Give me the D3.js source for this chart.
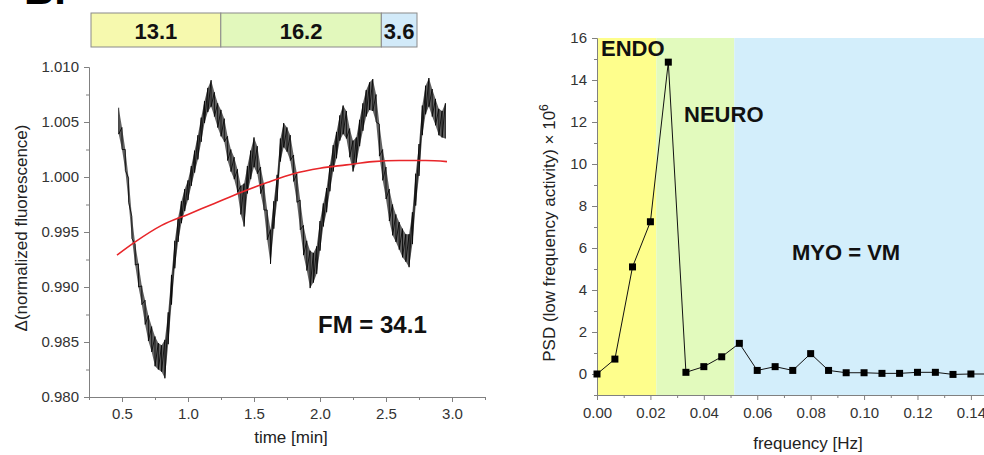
<!DOCTYPE html>
<html>
<head>
<meta charset="utf-8">
<script src="https://cdn.jsdelivr.net/npm/d3@7"></script>
<style>
  body { margin: 0; background: #fff; }
  svg { display: block; font-family: "Liberation Sans", Arial, sans-serif; }
  .axis path, .axis line { stroke: #808080; }
  .axis text { fill: #333; font-size: 15px; font-family: "Liberation Sans", Arial, sans-serif; }
</style>
</head>
<body>
<div id="viz-container"></div>
<script>
// ---- data ----
// top bar (contributions)
const barLabels = ["13.1", "16.2", "3.6"];
const barValues = [13.1, 16.2, 3.6];

// fluorescence trace, sampled every 0.025 min: upper and lower edge of the noisy band
const traceTime = [0.475,0.5,0.525,0.55,0.575,0.6,0.625,0.65,0.675,0.7,
  0.725,0.75,0.775,0.8,0.825,0.85,0.875,0.9,0.925,0.95,
  0.975,1.0,1.025,1.05,1.075,1.1,1.125,1.15,1.175,1.2,
  1.225,1.25,1.275,1.3,1.325,1.35,1.375,1.4,1.425,1.45,
  1.475,1.5,1.525,1.55,1.575,1.6,1.625,1.65,1.675,1.7,
  1.725,1.75,1.775,1.8,1.825,1.85,1.875,1.9,1.925,1.95,
  1.975,2.0,2.025,2.05,2.075,2.1,2.125,2.15,2.175,2.2,
  2.225,2.25,2.275,2.3,2.325,2.35,2.375,2.4,2.425,2.45,
  2.475,2.5,2.525,2.55,2.575,2.6,2.625,2.65,2.675,2.7,
  2.725,2.75,2.775,2.8,2.825,2.85,2.875,2.9,2.925,2.95];
const traceHigh = [1.0063,1.0045,1.0025,0.9999,0.9964,0.9939,0.9921,0.9901,0.9888,0.9874,
  0.9864,0.9855,0.9849,0.9847,0.9852,0.9877,0.9911,0.9942,0.9963,0.9978,
  0.9989,0.9997,1.0010,1.0024,1.0038,1.0054,1.0069,1.0081,1.0088,1.0077,
  1.0067,1.0061,1.0053,1.0037,1.0025,1.0018,1.0007,0.9992,0.9994,1.0010,
  1.0024,1.0036,1.0028,1.0009,0.9994,0.9970,0.9952,0.9978,1.0002,1.0035,
  1.0049,1.0045,1.0038,1.0020,1.0003,0.9979,0.9956,0.9942,0.9933,0.9931,
  0.9937,0.9960,0.9976,0.9990,1.0011,1.0029,1.0041,1.0056,1.0065,1.0060,
  1.0044,1.0033,1.0036,1.0052,1.0067,1.0079,1.0086,1.0089,1.0075,1.0048,
  1.0025,1.0009,0.9989,0.9975,0.9966,0.9959,0.9953,0.9948,0.9948,0.9968,
  1.0003,1.0030,1.0065,1.0083,1.0090,1.0080,1.0071,1.0062,1.0060,1.0067];
const traceLow = [1.0039,1.0025,1.0006,0.9977,0.9944,0.9920,0.9900,0.9884,0.9866,0.9851,
  0.9841,0.9828,0.9825,0.9823,0.9817,0.9848,0.9884,0.9917,0.9941,0.9958,
  0.9969,0.9979,0.9992,1.0004,1.0016,1.0032,1.0049,1.0059,1.0064,1.0055,
  1.0045,1.0037,1.0032,1.0015,1.0005,0.9998,0.9986,0.9966,0.9955,0.9985,
  0.9998,1.0009,1.0003,0.9985,0.9970,0.9943,0.9921,0.9953,0.9978,1.0014,
  1.0027,1.0023,1.0015,0.9996,0.9977,0.9952,0.9929,0.9915,0.9899,0.9904,
  0.9912,0.9933,0.9955,0.9968,0.9987,1.0005,1.0017,1.0033,1.0039,1.0035,
  1.0018,1.0005,1.0013,1.0028,1.0042,1.0055,1.0061,1.0060,1.0050,1.0019,
  0.9997,0.9980,0.9960,0.9947,0.9941,0.9934,0.9927,0.9923,0.9918,0.9939,
  0.9974,1.0001,1.0038,1.0057,1.0064,1.0055,1.0047,1.0038,1.0036,1.0035];

// red trend line
const trendTime = [0.462,0.6,0.8,1.0,1.2,1.4,1.6,1.8,2.0,2.2,2.4,2.6,2.8,2.962];
const trendValue = [0.9929,0.9941,0.9956,0.9966,0.9976,0.9986,0.9995,1.0003,1.0008,1.0011,1.0014,1.0015,1.0015,1.0014];

// power spectrum
const psdFreq = [0,0.0067,0.0133,0.02,0.0267,0.0333,0.04,0.0467,0.0533,0.06,0.0667,0.0733,
  0.08,0.0867,0.0933,0.1,0.1067,0.1133,0.12,0.1267,0.1333,0.14,0.1467];
const psdValue = [0,0.71,5.1,7.25,14.85,0.08,0.35,0.82,1.46,0.17,0.35,0.17,
  0.97,0.17,0.06,0.06,0.03,0.03,0.08,0.08,-0.02,0,0];

// frequency bands
const bandNames = ["ENDO", "NEURO", "MYO"];
const bandStart = [0, 0.0222, 0.0514];
const bandEnd = [0.0222, 0.0514, 0.15];

let viz = d3.select("#viz-container")
  .append("svg")
    .attr("width", 984)
    .attr("height", 455)
;

// panel letter, mostly cut off at the top
viz.append("text")
  .text("B.")
    .attr("x", 24)
    .attr("y", 4)
    .attr("font-size", 42)
    .attr("font-weight", "bold")
;

// ================= left panel =================
let xL = d3.scaleLinear().domain([0.25, 3.25]).range([89, 485]);
let yL = d3.scaleLinear().domain([0.98, 1.01]).range([397, 67]);

// contribution bar
let barTotal = d3.sum(barValues);
let xBar = d3.scaleLinear().domain([0, barTotal]).range([91, 417]);
let barColors = ["#f6f9ae", "#e2f8bc", "#d2eaf9"];
let barStarts = barValues.map((v, i) => d3.sum(barValues.slice(0, i)));

let bars = viz.selectAll(".bargroup").data(barValues).enter()
  .append("g")
    .attr("class", "bargroup")
;
bars.append("rect")
  .attr("x", (d, i) => xBar(barStarts[i]))
  .attr("y", 13)
  .attr("width", d => xBar(d) - xBar(0))
  .attr("height", 34)
  .attr("fill", (d, i) => barColors[i])
  .attr("stroke", "#8a8a8a")
  .attr("stroke-width", 1)
;
bars.append("text")
  .text((d, i) => barLabels[i])
  .attr("x", (d, i) => xBar(barStarts[i] + d / 2))
  .attr("y", 39)
  .attr("text-anchor", "middle")
  .attr("font-size", 22)
  .attr("font-weight", "bold")
  .attr("fill", "#111")
;

// axes
let yTicksL = [0.98, 0.985, 0.99, 0.995, 1.0, 1.005, 1.01];
viz.append("g")
  .attr("class", "axis")
  .attr("transform", "translate(89,0)")
  .call(d3.axisLeft(yL).tickValues(d3.range(0.9825, 1.01, 0.005)).tickSize(3).tickFormat("").tickSizeOuter(0));
viz.append("g")
  .attr("class", "axis")
  .attr("transform", "translate(89,0)")
  .call(d3.axisLeft(yL).tickValues(yTicksL).tickSize(5).tickPadding(5).tickFormat(d3.format(".3f")).tickSizeOuter(0));

let xTicksL = [0.5, 1.0, 1.5, 2.0, 2.5, 3.0];
viz.append("g")
  .attr("class", "axis")
  .attr("transform", "translate(0,397)")
  .call(d3.axisBottom(xL).tickValues(d3.range(0.25, 3.3, 0.5)).tickSize(3).tickFormat("").tickSizeOuter(0));
viz.append("g")
  .attr("class", "axis")
  .attr("transform", "translate(0,397)")
  .call(d3.axisBottom(xL).tickValues(xTicksL).tickSize(5).tickPadding(6).tickFormat(d3.format(".1f")).tickSizeOuter(0));

// noisy trace: dark band between the edges, plus a zigzag through them for texture
viz.append("path")
  .datum(traceTime)
  .attr("d", d3.area().x(d => xL(d)).y0((d, i) => yL(traceLow[i])).y1((d, i) => yL(traceHigh[i])))
  .attr("fill", "#3a3a3a")
  .attr("fill-opacity", 0.8)
;
let tracePoints = [];
traceTime.forEach(function(t, i){
  tracePoints.push([xL(t), yL(traceHigh[i])]);
  tracePoints.push([xL(t), yL(traceLow[i])]);
});
viz.append("path")
  .attr("d", d3.line()(tracePoints))
  .attr("fill", "none")
  .attr("stroke", "#000")
  .attr("stroke-width", 0.8)
;

// trend
viz.append("path")
  .datum(trendTime)
  .attr("d", d3.line().x(d => xL(d)).y((d, i) => yL(trendValue[i])).curve(d3.curveMonotoneX))
  .attr("fill", "none")
  .attr("stroke", "#e8262a")
  .attr("stroke-width", 1.6)
;

viz.append("text")
  .text("FM = 34.1")
    .attr("x", xL(1.985))
    .attr("y", yL(0.98582))
    .attr("font-size", 24)
    .attr("font-weight", "bold")
    .attr("fill", "#111")
;

viz.append("text")
  .text("time [min]")
    .attr("x", 291)
    .attr("y", 443)
    .attr("text-anchor", "middle")
    .attr("font-size", 17)
    .attr("fill", "#222")
;
viz.append("text")
  .text("Δ(normalized fluorescence)")
    .attr("transform", "translate(27,228) rotate(-90)")
    .attr("text-anchor", "middle")
    .attr("font-size", 17)
    .attr("fill", "#222")
;

// ================= right panel =================
let xR = d3.scaleLinear().domain([0, 0.15]).range([597, 997.6]);
let yR = d3.scaleLinear().domain([-1, 16]).range([395, 38]);
let bandColors = ["#fefe8c", "#e2fabd", "#d3eefb"];

viz.selectAll(".band").data(bandNames).enter()
  .append("rect")
    .attr("class", "band")
    .attr("x", (d, i) => xR(bandStart[i]))
    .attr("y", yR(16))
    .attr("width", (d, i) => xR(bandEnd[i]) - xR(bandStart[i]))
    .attr("height", yR(-1) - yR(16))
    .attr("fill", (d, i) => bandColors[i])
;

viz.append("g")
  .attr("class", "axis")
  .attr("transform", "translate(597,0)")
  .call(d3.axisLeft(yR).tickValues(d3.range(-1, 16, 2)).tickSize(3).tickFormat("").tickSizeOuter(0));
viz.append("g")
  .attr("class", "axis")
  .attr("transform", "translate(597,0)")
  .call(d3.axisLeft(yR).tickValues(d3.range(0, 17, 2)).tickSize(5).tickPadding(5).tickSizeOuter(0));

viz.append("g")
  .attr("class", "axis")
  .attr("transform", "translate(0,395)")
  .call(d3.axisBottom(xR).tickValues(d3.range(0.01, 0.15, 0.02)).tickSize(3).tickFormat("").tickSizeOuter(0));
viz.append("g")
  .attr("class", "axis")
  .attr("transform", "translate(0,395)")
  .call(d3.axisBottom(xR).tickValues(d3.range(0, 0.15, 0.02)).tickSize(5).tickPadding(7).tickFormat(d3.format(".2f")).tickSizeOuter(0));

viz.append("path")
  .datum(psdFreq)
  .attr("d", d3.line().x(d => xR(d)).y((d, i) => yR(psdValue[i])))
  .attr("fill", "none")
  .attr("stroke", "#111")
  .attr("stroke-width", 1)
;
viz.selectAll(".marker").data(psdFreq).enter()
  .append("rect")
    .attr("class", "marker")
    .attr("x", d => xR(d) - 3.5)
    .attr("y", (d, i) => yR(psdValue[i]) - 3.5)
    .attr("width", 7)
    .attr("height", 7)
    .attr("fill", "#000")
;

viz.append("text").text("ENDO")
  .attr("x", xR(0.0015)).attr("y", yR(15.14))
  .attr("font-size", 22).attr("font-weight", "bold").attr("fill", "#111");
viz.append("text").text("NEURO")
  .attr("x", xR(0.0326)).attr("y", yR(12.0))
  .attr("font-size", 22).attr("font-weight", "bold").attr("fill", "#111");
viz.append("text").text("MYO = VM")
  .attr("x", xR(0.073)).attr("y", yR(5.43))
  .attr("font-size", 22).attr("font-weight", "bold").attr("fill", "#111");

viz.append("text")
  .text("frequency [Hz]")
    .attr("x", 808)
    .attr("y", 449)
    .attr("text-anchor", "middle")
    .attr("font-size", 17)
    .attr("fill", "#222")
;
let psdLabel = viz.append("text")
  .attr("transform", "translate(555,233) rotate(-90)")
  .attr("text-anchor", "middle")
  .attr("font-size", 17)
  .attr("fill", "#222")
;
psdLabel.append("tspan").text("PSD (low frequency activity) × 10");
psdLabel.append("tspan").text("6").attr("font-size", 12).attr("dy", -7);
</script>
</body>
</html>
